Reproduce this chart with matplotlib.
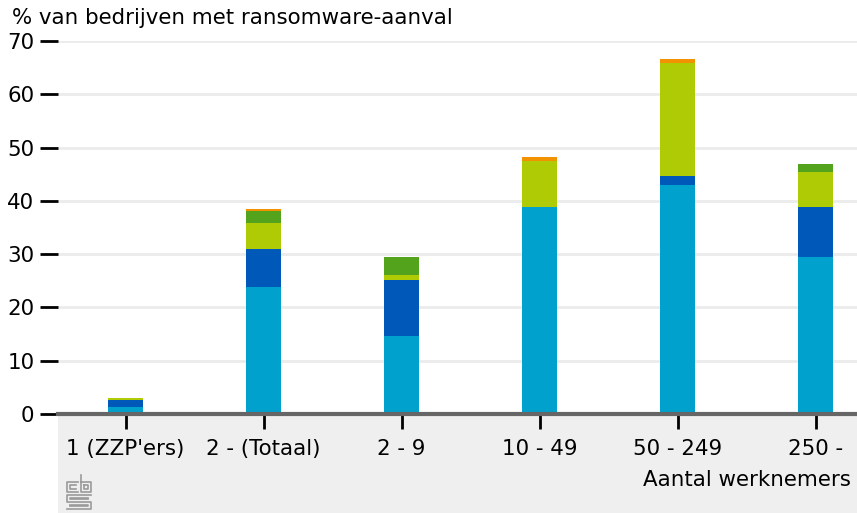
import matplotlib.pyplot as plt
from matplotlib.patches import Rectangle
from matplotlib.lines import Line2D
import numpy as np

# Data
categories = ["1 (ZZP'ers)", "2 - (Totaal)", "2 - 9", "10 - 49", "50 - 249", "250 -"]
serie_1 = [1.3, 23.8, 14.7, 38.8, 43.0, 29.5]
serie_2 = [1.3, 7.2, 10.4, 0.0, 1.7, 9.3]
serie_3 = [0.4, 4.8, 1.0, 8.7, 21.2, 6.6]
serie_4 = [0.0, 2.3, 3.4, 0.0, 0.0, 1.5]
serie_5 = [0.0, 0.4, 0.0, 0.7, 0.7, 0.0]
series = [serie_1, serie_2, serie_3, serie_4, serie_5]
colours = ["#00a1cd", "#0058b8", "#afcb05", "#53a31d", "#f39200"]

y_ticks = [0, 10, 20, 30, 40, 50, 60, 70]
y_label = "% van bedrijven met ransomware-aanval"
x_label = "Aantal werknemers"

W, H = 857, 513
fig = plt.figure(figsize=(W / 100, H / 100), dpi=100)
fs = 15.4

# axes placement in pixels
left, right, top, bottom = 58, 857, 41, 414
ax = fig.add_axes([left / W, 1 - bottom / H, (right - left) / W, (bottom - top) / H])
ax.set_zorder(2)
ax.patch.set_alpha(0)

# grey band under the plot
fig.patches.append(Rectangle((left / W, 0), (right - left) / W, 1 - bottom / H,
                             transform=fig.transFigure, facecolor="#efefef",
                             edgecolor="none", zorder=-1))

x = np.arange(len(categories))
base = np.zeros(len(categories))
for vals, col in zip(series, colours):
    ax.bar(x, vals, bottom=base, width=0.255, color=col, zorder=3)
    base += np.array(vals)

ax.set_xlim(-0.49, 5.3)
ax.set_ylim(0, 70)
ax.set_yticks(y_ticks)
ax.set_xticks(x)
ax.set_xticklabels(categories)
ax.grid(axis="y", color="#ebebeb", linewidth=2, zorder=0)
ax.set_axisbelow(True)

for s in ["top", "right", "left"]:
    ax.spines[s].set_visible(False)
ax.spines["bottom"].set_color("#666666")
ax.spines["bottom"].set_linewidth(3)
ax.spines["bottom"].set_zorder(5)

ax.tick_params(axis="y", length=13, width=2, pad=4, labelsize=fs, color="black")
ax.tick_params(axis="x", length=11, width=2, pad=7, labelsize=fs, color="black")

fig.text(12 / W, 1 - 18 / H, y_label, fontsize=fs, ha="left", va="center")
fig.text(851 / W, 1 - 480 / H, x_label, fontsize=fs, ha="right", va="center")

# small cbs logo in the corner
def px_line(xs, ys):
    fig.lines.append(Line2D([v / W for v in xs], [1 - v / H for v in ys],
                            transform=fig.transFigure, color="#9a9a9a",
                            linewidth=1.2, zorder=4))

px_line([78, 67, 67, 78], [482, 482, 492, 492])
px_line([76, 70, 70, 76], [485, 485, 489, 489])
px_line([81, 81, 91, 91, 81], [475, 492, 492, 482, 482])
px_line([84, 88, 88, 84, 84], [485, 485, 489, 489, 485])
px_line([91, 67, 67, 91, 91, 67], [495, 495, 502, 502, 509, 509])
px_line([88, 70, 70, 88], [498, 498, 499, 499])
px_line([70, 88, 88, 70], [505, 505, 506, 506])

fig.savefig("out.png", dpi=100)
